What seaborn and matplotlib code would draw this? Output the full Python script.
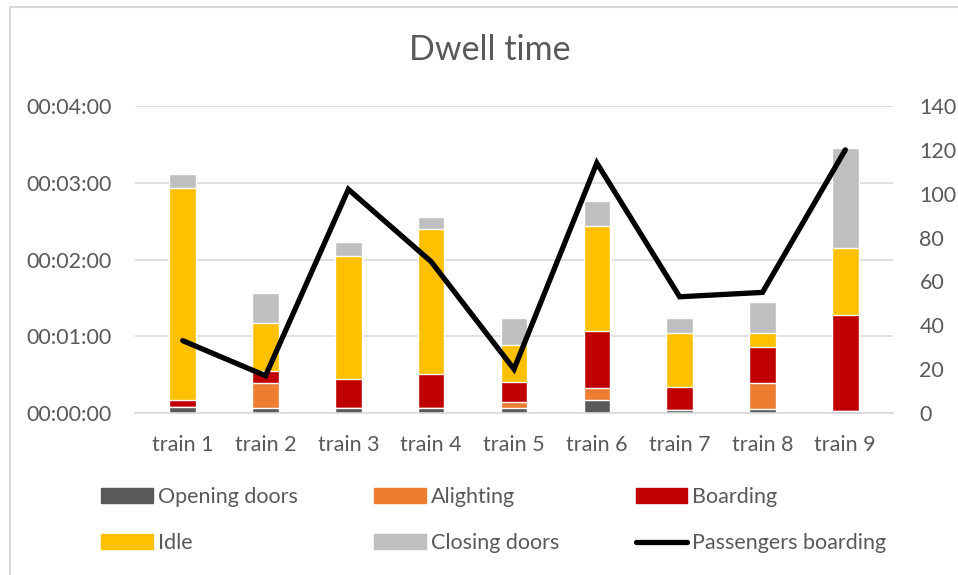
import numpy as np
import pandas as pd
import seaborn as sns
import matplotlib.pyplot as plt
from matplotlib.patches import Patch, Rectangle
from matplotlib.lines import Line2D
from matplotlib.ticker import FuncFormatter, MultipleLocator

trains = ['train 1', 'train 2', 'train 3', 'train 4', 'train 5',
          'train 6', 'train 7', 'train 8', 'train 9']

# seconds per phase
opening_doors = [4.5, 4.2, 3.6, 3.6, 4.2, 10.4, 2.3, 3.4, 1.6]
alighting = [0.0, 19.5, 0.0, 0.0, 4.4, 9.4, 0.0, 20.3, 0.0]
boarding = [5.7, 9.4, 22.8, 27.0, 15.7, 44.6, 18.3, 27.7, 74.8]
idle = [165.6, 37.3, 96.7, 113.5, 28.9, 81.4, 41.8, 11.0, 52.5]
closing_doors = [11.0, 23.5, 10.9, 9.1, 21.4, 20.3, 12.2, 24.5, 78.2]

passengers = [33, 17, 102, 69, 20, 114, 53, 55, 120]

phases = ['Opening doors', 'Alighting', 'Boarding', 'Idle', 'Closing doors']
colors = ['#595959', '#ED7D31', '#C00000', '#FFC000', '#BFBFBF']

df = pd.DataFrame({
    'train': trains,
    'Opening doors': opening_doors,
    'Alighting': alighting,
    'Boarding': boarding,
    'Idle': idle,
    'Closing doors': closing_doors,
    'Passengers boarding': passengers,
})

sns.set_style('white')
plt.rcParams['font.family'] = ['Lato', 'DejaVu Sans']
text_col = '#595959'
fsize = 15.5

fig, ax = plt.subplots(figsize=(9.58, 5.75), dpi=100)
fig.subplots_adjust(left=135 / 958, right=893 / 958, top=1 - 106 / 575, bottom=1 - 413 / 575)

# stacked bars: draw cumulative totals from the top layer down
cum = df[phases].cumsum(axis=1)
for phase, col in reversed(list(zip(phases, colors))):
    sns.barplot(x=df['train'], y=cum[phase], color=col, width=0.32,
                saturation=1, ax=ax, zorder=2)

ax.set_ylim(0, 240)
ax.yaxis.set_major_locator(MultipleLocator(60))
ax.yaxis.set_major_formatter(FuncFormatter(
    lambda v, p: '%02d:%02d:%02d' % (v // 3600, (v % 3600) // 60, v % 60)))
ax.grid(axis='y', color='#d9d9d9', lw=1.2, zorder=0)
ax.set_axisbelow(True)
ax.set_xlabel('')
ax.set_ylabel('')
for s in ['top', 'left', 'right']:
    ax.spines[s].set_visible(False)
ax.spines['bottom'].set_color('#d9d9d9')
ax.spines['bottom'].set_linewidth(1.2)
ax.tick_params(axis='both', length=0, labelsize=fsize, labelcolor=text_col)
ax.tick_params(axis='y', pad=17)
ax.tick_params(axis='x', pad=16)

ax2 = ax.twinx()
sns.lineplot(x=df['train'], y=df['Passengers boarding'], sort=False,
             color='black', lw=3.8, ax=ax2, solid_capstyle='round',
             solid_joinstyle='miter')
ax2.set_ylim(0, 140)
ax2.yaxis.set_major_locator(MultipleLocator(20))
ax2.set_ylabel('')
for s in ['top', 'left', 'right', 'bottom']:
    ax2.spines[s].set_visible(False)
ax2.tick_params(axis='y', length=0, labelsize=fsize, labelcolor=text_col, pad=19)
ax2.grid(False)

fig.suptitle('Dwell time', x=490 / 958, y=1 - 50 / 575, va='center',
             fontsize=24.5, color=text_col)

handles = [Patch(color=c) for c in colors]
handles.append(Line2D([], [], color='black', lw=3.8, solid_capstyle='round'))
labels = phases + ['Passengers boarding']
order = [0, 3, 1, 4, 2, 5]
fig.legend([handles[i] for i in order], [labels[i] for i in order],
           loc='center', bbox_to_anchor=(494 / 958, 1 - 520 / 575), ncol=3,
           frameon=False, fontsize=fsize, labelcolor=text_col,
           handlelength=2.4, handleheight=0.65, handletextpad=0.23,
           columnspacing=3.55, labelspacing=1.2)

fig.add_artist(Rectangle((10 / 958, -0.1), 1.2, 1.1 - 7 / 575, transform=fig.transFigure,
                         fill=False, edgecolor='#d9d9d9', lw=1.5))

fig.savefig('out.png', dpi=100)
